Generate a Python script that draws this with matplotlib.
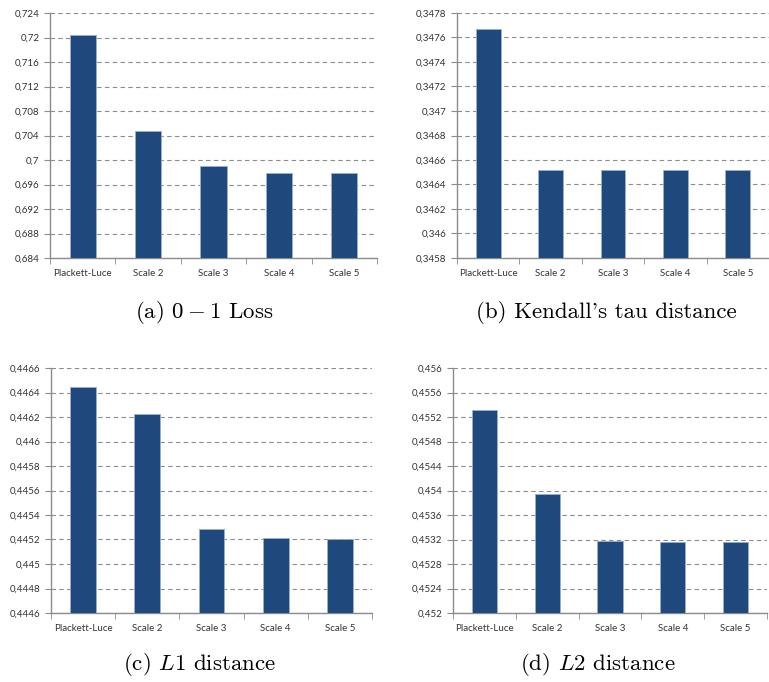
import matplotlib
matplotlib.use("Agg")
import matplotlib.pyplot as plt
import numpy as np
from matplotlib.ticker import MultipleLocator, FuncFormatter

# categories
labels = ['Plackett-Luce', 'Scale 2', 'Scale 3', 'Scale 4', 'Scale 5']
# values
loss01 = [0.72046, 0.70468, 0.69907, 0.69788, 0.69782]
kendall = [0.34767, 0.346521, 0.346521, 0.346521, 0.346521]
l1 = [0.446442, 0.446225, 0.445286, 0.445212, 0.445204]
l2 = [0.45532, 0.453937, 0.453181, 0.453159, 0.453159]

captions = [r"(a) $0-1$ Loss", "(b) Kendall's tau distance",
            r"(c) $L1$ distance", r"(d) $L2$ distance"]
ylims = [(0.684, 0.724), (0.3458, 0.3478), (0.4446, 0.4466), (0.452, 0.456)]
steps = [0.004, 0.0002, 0.0002, 0.0004]

plt.rcParams['mathtext.fontset'] = 'cm'

fig = plt.figure(figsize=(7.69, 6.82), dpi=100)
W, H = 769.0, 682.0
# axes boxes in pixels: left, top, right, bottom
boxes = [(50, 13, 377, 258), (457, 13, 769, 258),
         (51, 368, 372, 613), (453, 368, 767, 613)]
cap_pos = [(204, 313), (606, 313), (200, 665), (598, 665)]

def fmt(v, pos):
    s = f"{v:.5f}".rstrip('0').rstrip('.')
    return s.replace('.', ',')

x = np.arange(len(labels))
for data, box, yl, st, cap, cp in zip([loss01, kendall, l1, l2], boxes, ylims,
                                      steps, captions, cap_pos):
    l, t, r, b = box
    ax = fig.add_axes([l / W, 1 - b / H, (r - l) / W, (b - t) / H])
    ax.bar(x, np.array(data) - yl[0], 0.4, bottom=yl[0], color='#1F497D',
           edgecolor='#9BB0CC', linewidth=0.6, zorder=3)
    ax.set_xlim(-0.5, 4.5)
    ax.set_ylim(*yl)
    ax.yaxis.set_major_locator(MultipleLocator(st))
    ax.yaxis.set_major_formatter(FuncFormatter(fmt))
    ax.grid(axis='y', color='#8C8C8C', linestyle=(0, (4, 3)), linewidth=0.8, zorder=0)
    ax.set_xticks(x)
    ax.set_xticklabels(labels)
    ax.set_xticks(np.arange(-0.5, 5, 1), minor=True)
    ax.tick_params(axis='x', which='major', length=0, pad=8)
    ax.tick_params(axis='x', which='minor', length=4, color='#8C8C8C', direction='out')
    ax.tick_params(axis='y', length=4, color='#8C8C8C', direction='out')
    ax.tick_params(labelsize=7, labelcolor='#333333')
    for lab in ax.get_xticklabels() + ax.get_yticklabels():
        lab.set_family('Lato')
    for sp in ['top', 'right']:
        ax.spines[sp].set_visible(False)
    for sp in ['left', 'bottom']:
        ax.spines[sp].set_color('#8C8C8C')
        ax.spines[sp].set_linewidth(1.0)
    fig.text(cp[0] / W, 1 - cp[1] / H, cap, ha='center', va='center',
             family='cmr10', fontsize=16.5)

fig.savefig('out.png', dpi=100)
